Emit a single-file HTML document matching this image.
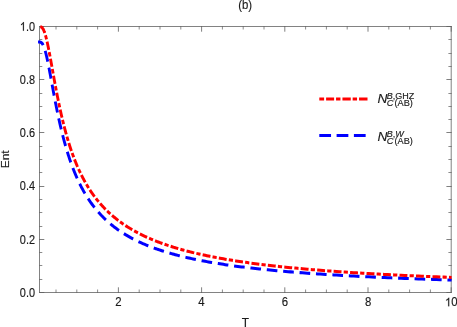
<!DOCTYPE html>
<html><head><meta charset="utf-8"><title>(b)</title>
<style>
html,body{margin:0;padding:0;background:#fff;}
body{width:457px;height:327px;overflow:hidden;font-family:"Liberation Sans",sans-serif;}
svg{display:block;position:absolute;left:0;top:0;}
</style></head><body>
<svg width="457" height="327" viewBox="0 0 457 327" font-family="Liberation Sans, sans-serif">
<rect width="457" height="327" fill="#fff"/>
<rect x="39.5" y="26.5" width="411.7" height="266.0" fill="none" stroke="#828282" stroke-width="1"/>
<path d="M118.40,293.0v-5.7M118.40,26.0v5.7M201.60,293.0v-5.7M201.60,26.0v5.7M284.80,293.0v-5.7M284.80,26.0v5.7M368.00,293.0v-5.7M368.00,26.0v5.7M451.20,293.0v-5.7M451.20,26.0v5.7M39.0,292.50h5.3M451.7,292.50h-5.3M39.0,239.50h5.3M451.7,239.50h-5.3M39.0,186.50h5.3M451.7,186.50h-5.3M39.0,132.50h5.3M451.7,132.50h-5.3M39.0,79.50h5.3M451.7,79.50h-5.3M39.0,26.50h5.3M451.7,26.50h-5.3" fill="none" stroke="#606060" stroke-width="0.8"/>
<path d="M56.00,293.0v-3.5M56.00,26.0v3.5M76.80,293.0v-3.5M76.80,26.0v3.5M97.60,293.0v-3.5M97.60,26.0v3.5M139.20,293.0v-3.5M139.20,26.0v3.5M160.00,293.0v-3.5M160.00,26.0v3.5M180.80,293.0v-3.5M180.80,26.0v3.5M222.40,293.0v-3.5M222.40,26.0v3.5M243.20,293.0v-3.5M243.20,26.0v3.5M264.00,293.0v-3.5M264.00,26.0v3.5M305.60,293.0v-3.5M305.60,26.0v3.5M326.40,293.0v-3.5M326.40,26.0v3.5M347.20,293.0v-3.5M347.20,26.0v3.5M388.80,293.0v-3.5M388.80,26.0v3.5M409.60,293.0v-3.5M409.60,26.0v3.5M430.40,293.0v-3.5M430.40,26.0v3.5M39.0,279.50h3.3M451.7,279.50h-3.3M39.0,265.50h3.3M451.7,265.50h-3.3M39.0,252.50h3.3M451.7,252.50h-3.3M39.0,226.50h3.3M451.7,226.50h-3.3M39.0,212.50h3.3M451.7,212.50h-3.3M39.0,199.50h3.3M451.7,199.50h-3.3M39.0,172.50h3.3M451.7,172.50h-3.3M39.0,159.50h3.3M451.7,159.50h-3.3M39.0,146.50h3.3M451.7,146.50h-3.3M39.0,119.50h3.3M451.7,119.50h-3.3M39.0,106.50h3.3M451.7,106.50h-3.3M39.0,93.50h3.3M451.7,93.50h-3.3M39.0,66.50h3.3M451.7,66.50h-3.3M39.0,53.50h3.3M451.7,53.50h-3.3M39.0,39.50h3.3M451.7,39.50h-3.3" fill="none" stroke="#666" stroke-width="0.75"/>
<g transform="scale(1,1.05)" fill="none" stroke-width="2.88"><path d="M38.05,40.00 L39.35,40.00 L39.39,40.00 L39.43,40.00 L39.47,40.01 L39.51,40.01 L39.55,40.01 L39.59,40.02 L39.63,40.02 L39.67,40.02 L39.71,40.03 L39.75,40.03 L39.80,40.04 L39.84,40.05 L39.88,40.05 L39.93,40.06 L39.97,40.07 L40.01,40.07 L40.06,40.08 L40.10,40.09 L40.15,40.10 L40.20,40.11 L40.24,40.12 L40.29,40.13 L40.34,40.15 L40.38,40.16 L40.43,40.17 L40.48,40.19 L40.53,40.21 L40.58,40.22 L40.63,40.24 L40.68,40.26 L40.73,40.28 L40.78,40.30 L40.83,40.33 L40.88,40.35 L40.94,40.38 L40.99,40.41 L41.04,40.43 L41.10,40.47 L41.15,40.50 L41.21,40.53 L41.26,40.57 L41.32,40.61 L41.38,40.65 L41.43,40.69 L41.49,40.74 L41.55,40.78 L41.61,40.83 L41.67,40.89 L41.73,40.94 L41.79,41.00 L41.85,41.06 L41.91,41.12 L41.97,41.19 L42.04,41.26 L42.10,41.33 L42.17,41.41 L42.23,41.49 L42.30,41.57 L42.36,41.66 L42.43,41.75 L42.49,41.85 L42.56,41.95 L42.63,42.05 L42.70,42.16 L42.77,42.27 L42.84,42.39 L42.91,42.51 L42.98,42.64 L43.05,42.77 L43.13,42.91 L43.20,43.05 L43.27,43.19 L43.35,43.35 L43.42,43.51 L43.50,43.67 L43.58,43.84 L43.66,44.02 L43.73,44.20 L43.81,44.39 L43.89,44.58 L43.97,44.78 L44.06,44.99 L44.14,45.21 L44.22,45.43 L44.30,45.66 L44.39,45.90 L44.47,46.14 L44.56,46.39 L44.65,46.65 L44.73,46.91 L44.82,47.19 L44.91,47.47 L45.00,47.76 L45.09,48.06 L45.18,48.36 L45.28,48.68 L45.37,49.00 L45.47,49.33 L45.56,49.67 L45.66,50.02 L45.75,50.38 L45.85,50.74 L45.95,51.12 L46.05,51.50 L46.15,51.89 L46.25,52.30 L46.35,52.71 L46.46,53.13 L46.56,53.56 L46.67,54.00 L46.77,54.44 L46.88,54.90 L46.99,55.37 L47.10,55.84 L47.21,56.33 L47.32,56.82 L47.43,57.33 L47.55,57.84 L47.66,58.37 L47.78,58.90 L47.89,59.44 L48.01,59.99 L48.13,60.55 L48.25,61.12 L48.37,61.70 L48.49,62.29 L48.62,62.89 L48.74,63.50 L48.87,64.12 L48.99,64.74 L49.12,65.38 L49.25,66.02 L49.38,66.67 L49.51,67.34 L49.65,68.01 L49.78,68.69 L49.92,69.37 L50.05,70.07 L50.19,70.78 L50.33,71.49 L50.47,72.21 L50.61,72.94 L50.75,73.68 L50.90,74.43 L51.04,75.18 L51.19,75.94 L51.34,76.71 L51.49,77.49 L51.64,78.27 L51.79,79.06 L51.95,79.86 L52.10,80.66 L52.26,81.48 L52.42,82.29 L52.58,83.12 L52.74,83.95 L52.90,84.79 L53.06,85.63 L53.23,86.48 L53.40,87.33 L53.57,88.19 L53.74,89.06 L53.91,89.93 L54.08,90.81 L54.26,91.69 L54.43,92.57 L54.61,93.46 L54.79,94.36 L54.97,95.26 L55.16,96.16 L55.34,97.07 L55.53,97.98 L55.72,98.89 L55.91,99.81 L56.10,100.73 L56.29,101.66 L56.49,102.59 L56.69,103.52 L56.89,104.45 L57.09,105.38 L57.29,106.32 L57.50,107.26 L57.70,108.20 L57.91,109.15 L58.12,110.09 L58.34,111.04 L58.55,111.99 L58.77,112.94 L58.99,113.89 L59.21,114.84 L59.43,115.80 L59.65,116.75 L59.88,117.70 L60.11,118.66 L60.34,119.61 L60.57,120.57 L60.81,121.52 L61.05,122.48 L61.29,123.43 L61.53,124.39 L61.77,125.34 L62.02,126.29 L62.27,127.25 L62.52,128.20 L62.77,129.15 L63.03,130.10 L63.29,131.05 L63.55,131.99 L63.81,132.94 L64.08,133.88 L64.34,134.83 L64.61,135.77 L64.89,136.71 L65.16,137.64 L65.44,138.58 L65.72,139.51 L66.00,140.44 L66.29,141.37 L66.58,142.30 L66.87,143.22 L67.16,144.14 L67.46,145.06 L67.76,145.97 L68.06,146.89 L68.37,147.80 L68.67,148.71 L68.98,149.61 L69.30,150.51 L69.61,151.41 L69.93,152.31 L70.25,153.20 L70.58,154.09 L70.91,154.97 L71.24,155.85 L71.57,156.73 L71.91,157.61 L72.25,158.48 L72.60,159.35 L72.94,160.21 L73.29,161.07 L73.65,161.93 L74.00,162.78 L74.36,163.63 L74.73,164.48 L75.09,165.32 L75.46,166.16 L75.84,166.99 L76.21,167.82 L76.59,168.65 L76.98,169.47 L77.36,170.29 L77.76,171.11 L78.15,171.92 L78.55,172.72 L78.95,173.52 L79.36,174.32 L79.77,175.12 L80.18,175.91 L80.60,176.69 L81.02,177.47 L81.44,178.25 L81.87,179.02 L82.31,179.79 L82.74,180.56 L83.18,181.32 L83.63,182.07 L84.08,182.82 L84.53,183.57 L84.99,184.32 L85.45,185.05 L85.92,185.79 L86.39,186.52 L86.86,187.25 L87.34,187.97 L87.83,188.69 L88.31,189.40 L88.81,190.11 L89.30,190.81 L89.81,191.51 L90.31,192.21 L90.82,192.90 L91.34,193.59 L91.86,194.27 L92.39,194.95 L92.92,195.63 L93.45,196.30 L93.99,196.96 L94.54,197.63 L95.09,198.28 L95.64,198.94 L96.20,199.59 L96.77,200.23 L97.34,200.87 L97.92,201.51 L98.50,202.14 L99.09,202.77 L99.68,203.40 L100.28,204.02 L100.88,204.63 L101.49,205.25 L102.11,205.85 L102.73,206.46 L103.35,207.06 L103.99,207.65 L104.62,208.25 L105.27,208.83 L105.92,209.42 L106.57,210.00 L107.24,210.57 L107.90,211.14 L108.58,211.71 L109.26,212.27 L109.95,212.83 L110.64,213.39 L111.34,213.94 L112.05,214.49 L112.76,215.03 L113.48,215.57 L114.20,216.11 L114.94,216.64 L115.68,217.17 L116.42,217.70 L117.18,218.22 L117.94,218.74 L118.71,219.25 L119.48,219.76 L120.26,220.27 L121.05,220.77 L121.85,221.27 L122.65,221.76 L123.46,222.25 L124.28,222.74 L125.11,223.22 L125.94,223.71 L126.78,224.18 L127.63,224.66 L128.49,225.13 L129.36,225.59 L130.23,226.05 L131.11,226.51 L132.00,226.97 L132.90,227.42 L133.81,227.87 L134.72,228.32 L135.64,228.76 L136.58,229.20 L137.52,229.63 L138.46,230.06 L139.42,230.49 L140.39,230.92 L141.37,231.34 L142.35,231.76 L143.34,232.17 L144.35,232.59 L145.36,232.99 L146.38,233.40 L147.41,233.80 L148.45,234.20 L149.51,234.60 L150.57,234.99 L151.64,235.38 L152.72,235.77 L153.81,236.15 L154.91,236.53 L156.02,236.91 L157.14,237.28 L158.27,237.65 L159.41,238.02 L160.56,238.39 L161.73,238.75 L162.90,239.11 L164.08,239.47 L165.28,239.82 L166.49,240.17 L167.70,240.52 L168.93,240.86 L170.17,241.21 L171.43,241.55 L172.69,241.88 L173.97,242.22 L175.25,242.55 L176.55,242.87 L177.86,243.20 L179.19,243.52 L180.52,243.84 L181.87,244.16 L183.23,244.47 L184.61,244.79 L185.99,245.10 L187.39,245.40 L188.80,245.71 L190.23,246.01 L191.66,246.31 L193.12,246.60 L194.58,246.90 L196.06,247.19 L197.55,247.48 L199.06,247.77 L200.58,248.05 L202.11,248.33 L203.66,248.61 L205.22,248.89 L206.80,249.16 L208.39,249.43 L210.00,249.70 L211.62,249.97 L213.26,250.23 L214.91,250.50 L216.58,250.76 L218.26,251.02 L219.96,251.27 L221.67,251.53 L223.40,251.78 L225.15,252.03 L226.91,252.27 L228.69,252.52 L230.48,252.76 L232.29,253.00 L234.12,253.24 L235.97,253.47 L237.83,253.71 L239.71,253.94 L241.61,254.17 L243.52,254.40 L245.46,254.62 L247.41,254.85 L249.37,255.07 L251.36,255.29 L253.37,255.51 L255.39,255.72 L257.43,255.94 L259.49,256.15 L261.58,256.36 L263.68,256.57 L265.80,256.78 L267.93,256.98 L270.09,257.18 L272.27,257.38 L274.47,257.58 L276.69,257.78 L278.93,257.97 L281.19,258.17 L283.47,258.36 L285.78,258.55 L288.10,258.74 L290.45,258.93 L292.82,259.11 L295.21,259.29 L297.62,259.47 L300.05,259.65 L302.51,259.83 L304.99,260.01 L307.49,260.18 L310.02,260.36 L312.57,260.53 L315.14,260.70 L317.74,260.87 L320.36,261.04 L323.00,261.20 L325.67,261.37 L328.37,261.53 L331.09,261.69 L333.83,261.85 L336.60,262.01 L339.40,262.16 L342.22,262.32 L345.07,262.47 L347.95,262.62 L350.85,262.77 L353.77,262.92 L356.73,263.07 L359.71,263.22 L362.72,263.36 L365.76,263.51 L368.83,263.65 L371.92,263.79 L375.05,263.93 L378.20,264.07 L381.38,264.21 L384.59,264.34 L387.83,264.48 L391.11,264.61 L394.41,264.74 L397.74,264.87 L401.10,265.00 L404.50,265.13 L407.92,265.26 L411.38,265.39 L414.87,265.51 L418.39,265.63 L421.95,265.76 L425.54,265.88 L429.16,266.00 L432.81,266.12 L436.50,266.23 L440.22,266.35 L443.98,266.47 L447.77,266.58 L451.60,266.70" stroke="#0000ff" stroke-dasharray="10.65 5.8" stroke-dashoffset="4.2"/><path d="M39.35,25.26 L39.39,25.26 L39.43,25.26 L39.47,25.26 L39.51,25.27 L39.55,25.27 L39.59,25.27 L39.63,25.27 L39.67,25.28 L39.71,25.28 L39.75,25.28 L39.80,25.29 L39.84,25.29 L39.88,25.30 L39.93,25.30 L39.97,25.31 L40.01,25.31 L40.06,25.32 L40.10,25.33 L40.15,25.34 L40.20,25.34 L40.24,25.35 L40.29,25.36 L40.34,25.37 L40.38,25.38 L40.43,25.39 L40.48,25.40 L40.53,25.42 L40.58,25.43 L40.63,25.45 L40.68,25.46 L40.73,25.48 L40.78,25.50 L40.83,25.51 L40.88,25.53 L40.94,25.56 L40.99,25.58 L41.04,25.60 L41.10,25.63 L41.15,25.65 L41.21,25.68 L41.26,25.71 L41.32,25.75 L41.38,25.78 L41.43,25.81 L41.49,25.85 L41.55,25.89 L41.61,25.93 L41.67,25.98 L41.73,26.02 L41.79,26.07 L41.85,26.12 L41.91,26.18 L41.97,26.23 L42.04,26.29 L42.10,26.35 L42.17,26.42 L42.23,26.49 L42.30,26.56 L42.36,26.63 L42.43,26.71 L42.49,26.80 L42.56,26.88 L42.63,26.97 L42.70,27.06 L42.77,27.16 L42.84,27.26 L42.91,27.37 L42.98,27.48 L43.05,27.60 L43.13,27.72 L43.20,27.84 L43.27,27.97 L43.35,28.11 L43.42,28.25 L43.50,28.40 L43.58,28.55 L43.66,28.70 L43.73,28.87 L43.81,29.04 L43.89,29.21 L43.97,29.39 L44.06,29.58 L44.14,29.78 L44.22,29.98 L44.30,30.19 L44.39,30.40 L44.47,30.63 L44.56,30.86 L44.65,31.09 L44.73,31.34 L44.82,31.59 L44.91,31.85 L45.00,32.12 L45.09,32.39 L45.18,32.68 L45.28,32.97 L45.37,33.27 L45.47,33.58 L45.56,33.90 L45.66,34.23 L45.75,34.56 L45.85,34.91 L45.95,35.26 L46.05,35.63 L46.15,36.00 L46.25,36.38 L46.35,36.77 L46.46,37.17 L46.56,37.58 L46.67,38.00 L46.77,38.43 L46.88,38.87 L46.99,39.32 L47.10,39.78 L47.21,40.25 L47.32,40.73 L47.43,41.22 L47.55,41.72 L47.66,42.23 L47.78,42.75 L47.89,43.28 L48.01,43.82 L48.13,44.37 L48.25,44.93 L48.37,45.50 L48.49,46.08 L48.62,46.67 L48.74,47.27 L48.87,47.88 L48.99,48.50 L49.12,49.13 L49.25,49.77 L49.38,50.42 L49.51,51.08 L49.65,51.75 L49.78,52.43 L49.92,53.12 L50.05,53.82 L50.19,54.53 L50.33,55.25 L50.47,55.97 L50.61,56.71 L50.75,57.45 L50.90,58.21 L51.04,58.97 L51.19,59.74 L51.34,60.53 L51.49,61.31 L51.64,62.11 L51.79,62.92 L51.95,63.73 L52.10,64.55 L52.26,65.38 L52.42,66.22 L52.58,67.07 L52.74,67.92 L52.90,68.78 L53.06,69.64 L53.23,70.52 L53.40,71.40 L53.57,72.29 L53.74,73.18 L53.91,74.08 L54.08,74.98 L54.26,75.89 L54.43,76.81 L54.61,77.73 L54.79,78.66 L54.97,79.60 L55.16,80.53 L55.34,81.48 L55.53,82.42 L55.72,83.38 L55.91,84.33 L56.10,85.29 L56.29,86.26 L56.49,87.22 L56.69,88.19 L56.89,89.17 L57.09,90.15 L57.29,91.13 L57.50,92.11 L57.70,93.10 L57.91,94.08 L58.12,95.08 L58.34,96.07 L58.55,97.06 L58.77,98.06 L58.99,99.06 L59.21,100.06 L59.43,101.06 L59.65,102.06 L59.88,103.06 L60.11,104.06 L60.34,105.07 L60.57,106.07 L60.81,107.07 L61.05,108.08 L61.29,109.08 L61.53,110.09 L61.77,111.09 L62.02,112.09 L62.27,113.10 L62.52,114.10 L62.77,115.10 L63.03,116.10 L63.29,117.10 L63.55,118.10 L63.81,119.09 L64.08,120.09 L64.34,121.08 L64.61,122.07 L64.89,123.06 L65.16,124.05 L65.44,125.03 L65.72,126.02 L66.00,127.00 L66.29,127.97 L66.58,128.95 L66.87,129.92 L67.16,130.89 L67.46,131.86 L67.76,132.83 L68.06,133.79 L68.37,134.75 L68.67,135.70 L68.98,136.66 L69.30,137.60 L69.61,138.55 L69.93,139.49 L70.25,140.43 L70.58,141.37 L70.91,142.30 L71.24,143.23 L71.57,144.15 L71.91,145.07 L72.25,145.99 L72.60,146.91 L72.94,147.82 L73.29,148.72 L73.65,149.62 L74.00,150.52 L74.36,151.42 L74.73,152.31 L75.09,153.19 L75.46,154.07 L75.84,154.95 L76.21,155.82 L76.59,156.69 L76.98,157.56 L77.36,158.42 L77.76,159.27 L78.15,160.13 L78.55,160.97 L78.95,161.82 L79.36,162.66 L79.77,163.49 L80.18,164.32 L80.60,165.15 L81.02,165.97 L81.44,166.79 L81.87,167.60 L82.31,168.41 L82.74,169.21 L83.18,170.01 L83.63,170.81 L84.08,171.60 L84.53,172.39 L84.99,173.17 L85.45,173.95 L85.92,174.72 L86.39,175.49 L86.86,176.25 L87.34,177.01 L87.83,177.77 L88.31,178.52 L88.81,179.27 L89.30,180.01 L89.81,180.75 L90.31,181.48 L90.82,182.21 L91.34,182.94 L91.86,183.66 L92.39,184.38 L92.92,185.09 L93.45,185.80 L93.99,186.50 L94.54,187.20 L95.09,187.90 L95.64,188.59 L96.20,189.28 L96.77,189.96 L97.34,190.64 L97.92,191.32 L98.50,191.99 L99.09,192.65 L99.68,193.32 L100.28,193.97 L100.88,194.63 L101.49,195.28 L102.11,195.92 L102.73,196.57 L103.35,197.20 L103.99,197.84 L104.62,198.47 L105.27,199.09 L105.92,199.72 L106.57,200.34 L107.24,200.95 L107.90,201.56 L108.58,202.17 L109.26,202.77 L109.95,203.37 L110.64,203.96 L111.34,204.56 L112.05,205.14 L112.76,205.73 L113.48,206.31 L114.20,206.88 L114.94,207.45 L115.68,208.02 L116.42,208.59 L117.18,209.15 L117.94,209.71 L118.71,210.26 L119.48,210.81 L120.26,211.36 L121.05,211.90 L121.85,212.44 L122.65,212.98 L123.46,213.51 L124.28,214.04 L125.11,214.57 L125.94,215.09 L126.78,215.61 L127.63,216.12 L128.49,216.63 L129.36,217.14 L130.23,217.65 L131.11,218.15 L132.00,218.64 L132.90,219.14 L133.81,219.63 L134.72,220.12 L135.64,220.60 L136.58,221.08 L137.52,221.56 L138.46,222.04 L139.42,222.51 L140.39,222.98 L141.37,223.44 L142.35,223.90 L143.34,224.36 L144.35,224.82 L145.36,225.27 L146.38,225.72 L147.41,226.16 L148.45,226.61 L149.51,227.05 L150.57,227.48 L151.64,227.92 L152.72,228.35 L153.81,228.77 L154.91,229.20 L156.02,229.62 L157.14,230.04 L158.27,230.45 L159.41,230.86 L160.56,231.27 L161.73,231.68 L162.90,232.08 L164.08,232.48 L165.28,232.88 L166.49,233.27 L167.70,233.66 L168.93,234.05 L170.17,234.44 L171.43,234.82 L172.69,235.20 L173.97,235.58 L175.25,235.95 L176.55,236.32 L177.86,236.69 L179.19,237.06 L180.52,237.42 L181.87,237.78 L183.23,238.14 L184.61,238.50 L185.99,238.85 L187.39,239.20 L188.80,239.54 L190.23,239.89 L191.66,240.23 L193.12,240.57 L194.58,240.91 L196.06,241.24 L197.55,241.57 L199.06,241.90 L200.58,242.23 L202.11,242.55 L203.66,242.87 L205.22,243.19 L206.80,243.50 L208.39,243.82 L210.00,244.13 L211.62,244.44 L213.26,244.74 L214.91,245.05 L216.58,245.35 L218.26,245.65 L219.96,245.94 L221.67,246.24 L223.40,246.53 L225.15,246.82 L226.91,247.10 L228.69,247.39 L230.48,247.67 L232.29,247.95 L234.12,248.23 L235.97,248.50 L237.83,248.78 L239.71,249.05 L241.61,249.32 L243.52,249.58 L245.46,249.85 L247.41,250.11 L249.37,250.37 L251.36,250.63 L253.37,250.88 L255.39,251.13 L257.43,251.39 L259.49,251.64 L261.58,251.88 L263.68,252.13 L265.80,252.37 L267.93,252.61 L270.09,252.85 L272.27,253.09 L274.47,253.32 L276.69,253.55 L278.93,253.78 L281.19,254.01 L283.47,254.24 L285.78,254.46 L288.10,254.69 L290.45,254.91 L292.82,255.13 L295.21,255.34 L297.62,255.56 L300.05,255.77 L302.51,255.98 L304.99,256.19 L307.49,256.40 L310.02,256.61 L312.57,256.81 L315.14,257.01 L317.74,257.21 L320.36,257.41 L323.00,257.61 L325.67,257.80 L328.37,258.00 L331.09,258.19 L333.83,258.38 L336.60,258.57 L339.40,258.76 L342.22,258.94 L345.07,259.12 L347.95,259.31 L350.85,259.49 L353.77,259.66 L356.73,259.84 L359.71,260.02 L362.72,260.19 L365.76,260.36 L368.83,260.53 L371.92,260.70 L375.05,260.87 L378.20,261.04 L381.38,261.20 L384.59,261.36 L387.83,261.53 L391.11,261.69 L394.41,261.84 L397.74,262.00 L401.10,262.16 L404.50,262.31 L407.92,262.46 L411.38,262.62 L414.87,262.77 L418.39,262.92 L421.95,263.06 L425.54,263.21 L429.16,263.35 L432.81,263.50 L436.50,263.64 L440.22,263.78 L443.98,263.92 L447.77,264.06 L451.60,264.19" stroke="#ff0000" stroke-dasharray="7.9 2.2 4.2 2.2" stroke-dashoffset="-0.95"/></g>
<path d="M319.3,98.9H367.5" fill="none" stroke="#ff0000" stroke-width="3" stroke-dasharray="4.8 2 8 1.95 4.4 2 8.3 1.9 4.4 2 8.45 50"/>
<path d="M319.3,135.4H365.8" fill="none" stroke="#0000ff" stroke-width="3" stroke-dasharray="11.75 5.55"/>
<g fill="#1a1a1a" stroke="#1a1a1a" stroke-width="0.15" style="filter:grayscale(1)" font-family="'Liberation Sans', sans-serif"><text transform="translate(118.30,306.30) scale(0.95,1)" text-anchor="middle" font-size="12">2</text><text transform="translate(201.30,306.30) scale(0.95,1)" text-anchor="middle" font-size="12">4</text><text transform="translate(284.90,306.30) scale(0.95,1)" text-anchor="middle" font-size="12">6</text><text transform="translate(368.10,306.30) scale(0.95,1)" text-anchor="middle" font-size="12">8</text><path transform="translate(444.96,306.30) scale(0.005566,-0.005859)" d="M763 0H583V1147Q518 1085 412.5 1023T223 930V1104Q374 1175 487 1276T647 1472H763Z" stroke-width="25.6"/><text transform="translate(451.30,306.30) scale(0.95,1)" text-anchor="start" font-size="12">0</text><text transform="translate(35.00,296.70) scale(0.91,1)" text-anchor="end" font-size="12">0.0</text><text transform="translate(35.00,243.50) scale(0.91,1)" text-anchor="end" font-size="12">0.2</text><text transform="translate(35.00,190.30) scale(0.91,1)" text-anchor="end" font-size="12">0.4</text><text transform="translate(35.00,137.10) scale(0.91,1)" text-anchor="end" font-size="12">0.6</text><text transform="translate(35.00,83.90) scale(0.91,1)" text-anchor="end" font-size="12">0.8</text><text transform="translate(35.00,30.70) scale(0.91,1)" text-anchor="end" font-size="12">.0</text><path transform="translate(19.82,30.70) scale(0.005332,-0.005859)" d="M763 0H583V1147Q518 1085 412.5 1023T223 930V1104Q374 1175 487 1276T647 1472H763Z" stroke-width="25.6"/><text transform="translate(245.20,9.20) scale(0.95,1)" text-anchor="middle" font-size="12">(b)</text><text transform="translate(245.40,326.80) scale(0.95,1)" text-anchor="middle" font-size="12.6">T</text><text transform="translate(9.2,159.3) rotate(-90) scale(1.04,1)" text-anchor="middle" font-size="11.5">Ent</text><text x="377.4" y="103.4" font-size="13.7" font-style="italic">N</text><text transform="translate(386.7,99.20) scale(0.93,1)" font-size="9.7"><tspan font-style="italic">B</tspan>,GHZ</text><text x="386.7" y="106.20" font-size="9.2"><tspan font-style="italic">C</tspan><tspan dx="1.2">(AB)</tspan></text><text x="377.4" y="141.0" font-size="13.7" font-style="italic">N</text><text transform="translate(386.7,136.80) scale(0.93,1)" font-size="9.7"><tspan font-style="italic">B</tspan>,<tspan font-style="italic">W</tspan></text><text x="386.7" y="143.80" font-size="9.2"><tspan font-style="italic">C</tspan><tspan dx="1.2">(AB)</tspan></text></g>
</svg>
</body></html>
